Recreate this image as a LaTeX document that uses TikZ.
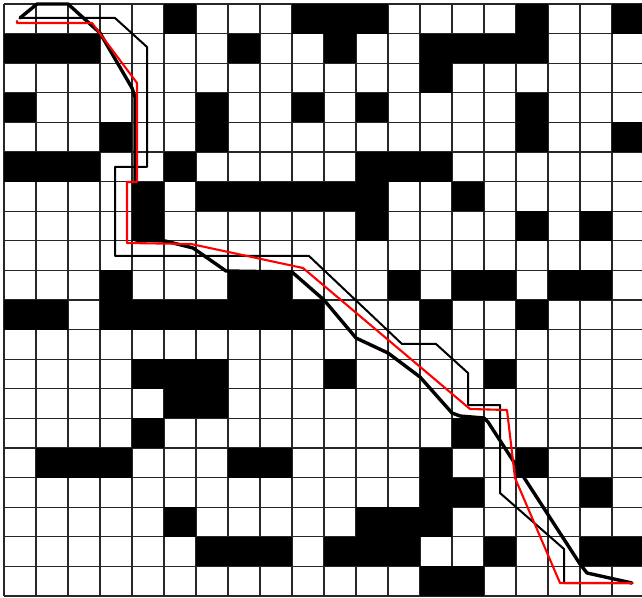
\documentclass[tikz,border=0pt]{standalone}
\begin{document}
\begin{tikzpicture}[x=0.5pt,y=-0.5pt,
  gridline/.style={draw=black!85,line width=0.65pt},
  cellfill/.style={fill=black},
  thinpath/.style={draw=black,line width=1.0pt,line join=round,line cap=round},
  thickpath/.style={draw=black,line width=1.7pt,line join=round,line cap=round},
  redpath/.style={draw=red,line width=1.05pt,line join=round,line cap=round}]
\useasboundingbox (0,0) rectangle (642,598);
\clip (0,0) rectangle (642,598);
\fill[white] (0,0) rectangle (642,598);
% grid lines
\foreach \i in {0,...,20} \draw[gridline] (4+32*\i,4) -- (4+32*\i,596);
\foreach \j in {0,...,20} \draw[gridline] (4,4+29.6*\j) -- (644,4+29.6*\j);
% obstacle cells
\foreach \r/\cs in {
  0/{5,9,10,11,16,19},
  1/{0,1,2,7,10,13,14,15,16},
  2/{13},
  3/{0,6,9,11,16},
  4/{3,6,16,19},
  5/{0,1,2,5,11,12,13},
  6/{4,6,7,8,9,10,11,14},
  7/{4,11,16,18},
  9/{3,7,8,12,14,15,17,18},
  10/{0,1,3,4,5,6,7,8,9,13,16},
  12/{4,5,6,10,15},
  13/{5,6},
  14/{4,14},
  15/{1,2,3,7,8,13,16},
  16/{13,14,18},
  17/{5,11,12,13},
  18/{6,7,8,10,11,12,15,18,19},
  19/{13,14}}
  \foreach \c in \cs
    \fill[cellfill] (4+32*\c,4+29.6*\r) rectangle ++(32,29.6);
% thin path
\coordinate (s) at (20,18);
\coordinate (g) at (632,583);
\draw[thinpath] (s) -- (115,18) -- (147,47) -- (147,167) -- (115,167) -- (115,256)
  -- (309,256) -- (402,344) -- (436,344) -- (468,373) -- (468,405) -- (500,405)
  -- (500,493) -- (564,549) -- (564,583) -- (g);
% thick path
\draw[thickpath] (s) -- (37,4) -- (68,4) -- (100,33) -- (132,88) -- (135,97)
  -- (135,240) -- (165,241) -- (193,248) -- (226,271) -- (292,272) -- (324,300)
  -- (356,338) -- (388,353) -- (420,377) -- (452,413) -- (460,416) -- (484,418)
  -- (488,422) -- (580,564) -- (587,573) -- (g);
% red path
\draw[redpath] (17,21) -- (17,23) -- (92,23) -- (137,83) -- (137,182) -- (127,182)
  -- (127,243) -- (191,244) -- (303,268) -- (470,409) -- (507,410) -- (515,478)
  -- (560,583) -- (g);
\end{tikzpicture}
\end{document}
